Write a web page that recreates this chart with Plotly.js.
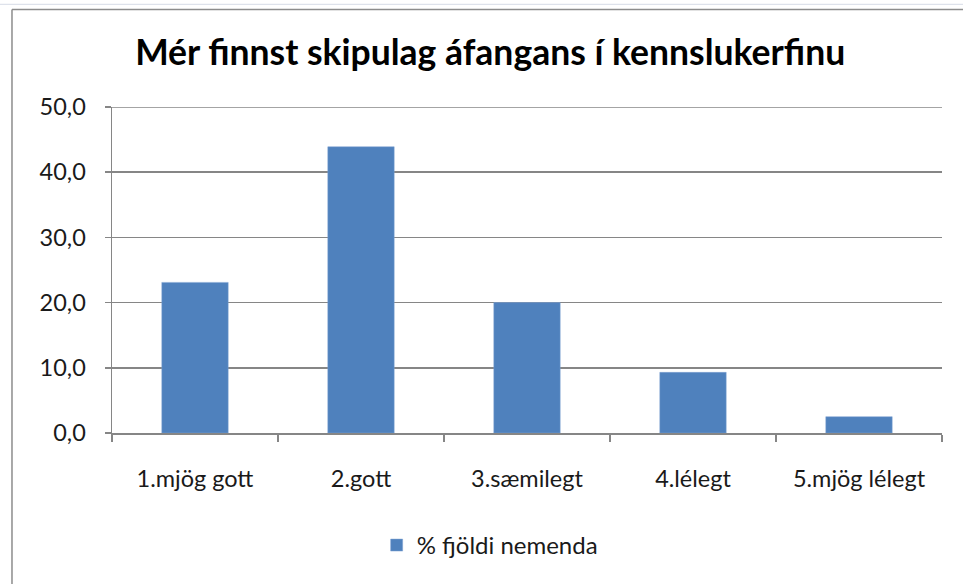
<!DOCTYPE html>
<html>
<head>
<meta charset="utf-8">
<script src="https://cdn.plot.ly/plotly-3.0.1.min.js"></script>
<style>
  html, body { margin: 0; padding: 0; background: #fff; }
  #chart { width: 963px; height: 584px; }
</style>
</head>
<body>
<div id="chart"></div>
<script>
// categories and values
const categories = ['1.mjög gott', '2.gott', '3.sæmilegt', '4.lélegt', '5.mjög lélegt'];
const percentStudents = [23.1, 43.9, 20.0, 9.3, 2.5];
const seriesName = '% fjöldi nemenda';
const yTicks = [0, 10, 20, 30, 40, 50];
const yMax = 50;

const axisGray = '#868686';
const fontFamily = 'Lato, Carlito, "Open Sans", sans-serif';

const trace = {
    x: categories,
    y: percentStudents,
    type: 'bar',
    name: seriesName,
    marker: {
        color: '#4F81BD',
        line: { color: '#7ea3d3', width: 0.5 }
    },
    hoverinfo: 'x+y'
};

const layout = {
    width: 963,
    height: 584,
    separators: ',.',
    paper_bgcolor: '#ffffff',
    plot_bgcolor: '#ffffff',
    font: { family: fontFamily, size: 23, color: '#1a1a1a' },
    title: {
        text: '<b>Mér finnst skipulag áfangans í kennslukerfinu</b>',
        font: { family: fontFamily, size: 35.5, color: '#000000' },
        x: 0.509,
        xanchor: 'center',
        y: 0.91,
        yanchor: 'middle'
    },
    margin: { l: 112, r: 21, t: 107, b: 151, pad: 0 },
    bargap: 0.6,
    showlegend: true,
    legend: {
        orientation: 'h',
        x: 0.455,
        xanchor: 'center',
        y: -0.345,
        yanchor: 'middle',
        font: { family: fontFamily, size: 24, color: '#1a1a1a' },
        itemwidth: 30
    },
    xaxis: {
        showline: true,
        linecolor: axisGray,
        linewidth: 1.5,
        ticks: 'outside',
        tickson: 'boundaries',
        ticklen: 7,
        tickcolor: axisGray,
        tickwidth: 1.5,
        showgrid: false,
        ticklabelstandoff: 24,
        tickfont: { family: fontFamily, size: 23.5, color: '#1a1a1a' }
    },
    yaxis: {
        range: [0, yMax],
        tickvals: yTicks,
        tickformat: '.1f',
        showline: true,
        linecolor: axisGray,
        linewidth: 1.5,
        ticks: 'outside',
        ticklen: 6,
        tickcolor: axisGray,
        tickwidth: 1.5,
        showgrid: true,
        gridcolor: axisGray,
        gridwidth: 1.5,
        zeroline: false,
        ticklabelstandoff: 14,
        tickfont: { family: fontFamily, size: 23.5, color: '#1a1a1a' }
    },
    shapes: [
        // top gridline (plotly drops the grid line at the range edge)
        { type: 'line', xref: 'paper', yref: 'y', x0: 0, x1: 1, y0: yMax, y1: yMax,
          line: { color: axisGray, width: 1.5 } },
        // outer chart frame (left and top edges)
        { type: 'line', xref: 'paper', yref: 'paper', x0: -0.1205, x1: -0.1205, y0: 1.299, y1: -0.47,
          line: { color: '#8c8c8c', width: 1.5 } },
        { type: 'line', xref: 'paper', yref: 'paper', x0: -0.1205, x1: 1.03, y0: 1.299, y1: 1.299,
          line: { color: '#8c8c8c', width: 1.5 } },
        // faint sheet line above the frame
        { type: 'line', xref: 'paper', yref: 'paper', x0: -0.14, x1: 1.03, y0: 1.315, y1: 1.315,
          line: { color: '#d6dbe6', width: 1 } }
    ]
};

Plotly.newPlot('chart', [trace], layout, { displayModeBar: false, staticPlot: true });
</script>
</body>
</html>
